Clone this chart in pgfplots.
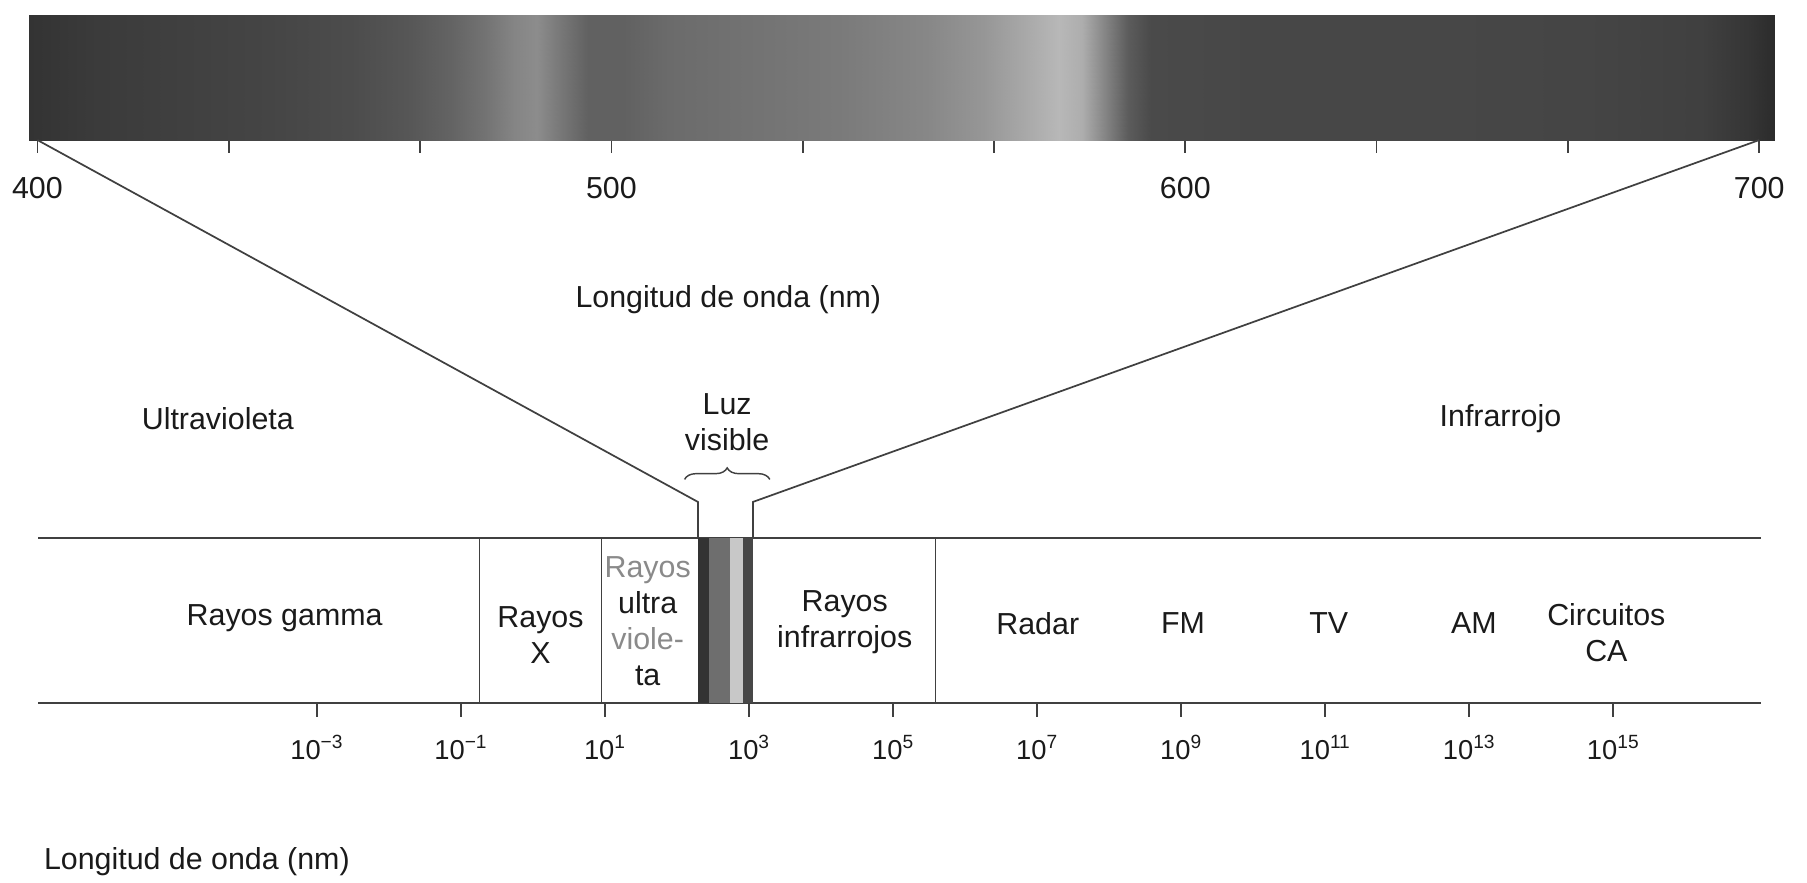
\documentclass[border=0pt]{standalone}
\usepackage{pgfplots}
\pgfplotsset{compat=1.18}
\usepackage{pgfplotstable}
\usepackage{fontspec}
\setmainfont{Liberation Sans}
\usetikzlibrary{decorations.pathreplacing}
\definecolor{ink}{HTML}{1A1A1A}
\definecolor{lin}{HTML}{404040}
\definecolor{gtext}{HTML}{8A8A8A}
\definecolor{vdark}{HTML}{333333}
\definecolor{vmid}{HTML}{6E6E6E}
\definecolor{vlight}{HTML}{C8C8C8}
\definecolor{vdark2}{HTML}{474747}

% visible spectrum (wavelength nm, row y, gray level)
\pgfplotstableread{
x y c
398.5 0 0.20
410 0 0.23
425 0 0.25
440 0 0.27
455 0 0.30
465 0 0.34
472 0 0.39
478 0 0.45
483 0 0.52
487 0 0.55
491 0 0.47
496 0 0.38
502 0 0.38
510 0 0.42
525 0 0.45
540 0 0.48
555 0 0.53
565 0 0.59
572 0 0.66
578 0 0.72
582 0 0.68
586 0 0.52
590 0 0.36
594 0 0.29
610 0 0.28
640 0 0.28
670 0 0.27
690 0 0.25
698 0 0.21
702.7 0 0.17
398.5 1 0.20
410 1 0.23
425 1 0.25
440 1 0.27
455 1 0.30
465 1 0.34
472 1 0.39
478 1 0.45
483 1 0.52
487 1 0.55
491 1 0.47
496 1 0.38
502 1 0.38
510 1 0.42
525 1 0.45
540 1 0.48
555 1 0.53
565 1 0.59
572 1 0.66
578 1 0.72
582 1 0.68
586 1 0.52
590 1 0.36
594 1 0.29
610 1 0.28
640 1 0.28
670 1 0.27
690 1 0.25
698 1 0.21
702.7 1 0.17
}\spectrum

\begin{document}
\begin{tikzpicture}[font=\fontsize{15}{17.8}\selectfont, color=ink]
\useasboundingbox (0,0) rectangle (313.6mm,-153.2mm);

% ---------------- top: visible spectrum 400-700 nm
\begin{axis}[
  at={(5mm,-24.3mm)}, anchor=south west, scale only axis,
  width=303mm, height=21.7mm,
  xmin=398.5, xmax=702.7, ymin=0, ymax=1,
  axis x line*=bottom, axis y line=none,
  x axis line style={draw=none},
  xtick={400,433.333,466.667,500,533.333,566.667,600,633.333,666.667,700},
  xticklabels={400,,,500,,,600,,,700},
  tick align=outside, major tick length=2.2mm,
  tick style={lin, line width=0.3mm},
  xticklabel style={font=\fontsize{15}{17.8}\selectfont, text=ink, yshift=-3mm},
  colormap={bw}{gray(0cm)=(0); gray(1cm)=(1)},
  point meta min=0, point meta max=1,
  clip=false,
]
\addplot[surf, shader=interp, mesh/rows=2, point meta=explicit]
  table[x=x, y=y, meta=c]{\spectrum};
\coordinate (a400) at (axis cs:400,0);
\coordinate (a700) at (axis cs:700,0);
\end{axis}

% ---------------- bottom: full spectrum, log wavelength
\begin{axis}[
  at={(6.6mm,-122mm)}, anchor=south west, scale only axis,
  width=299mm, height=28.6mm,
  xmode=log, xmin=1.34e-7, xmax=1.12e17, ymin=0, ymax=1,
  axis x line=box, axis y line=none,
  x axis line style={lin, line width=0.4mm},
  xtick={1e-3,1e-1,1e1,1e3,1e5,1e7,1e9,1e11,1e13,1e15},
  minor xtick={},
  xticklabels={10\textsuperscript{\textminus3},10\textsuperscript{\textminus1},10\textsuperscript{1},10\textsuperscript{3},10\textsuperscript{5},10\textsuperscript{7},10\textsuperscript{9},10\textsuperscript{11},10\textsuperscript{13},10\textsuperscript{15}},
  xtick pos=lower,
  tick align=outside, major tick length=2.4mm,
  tick style={lin, line width=0.3mm},
  xticklabel style={font=\fontsize{13.5}{16}\selectfont, text=ink, yshift=-2mm},
  clip=false,
]
% visible band stripes
\addplot[fill=vdark, draw=none] coordinates {(195,1) (278,1)} \closedcycle;
\addplot[fill=vmid, draw=none] coordinates {(278,1) (545,1)} \closedcycle;
\addplot[fill=vlight, draw=none] coordinates {(545,1) (822,1)} \closedcycle;
\addplot[fill=vdark2, draw=none] coordinates {(822,1) (1130,1)} \closedcycle;
% dividers
\addplot[lin, line width=0.25mm] coordinates {(0.1803,0) (0.1803,1)};
\addplot[lin, line width=0.25mm] coordinates {(8.954,0) (8.954,1)};
\addplot[lin, line width=0.25mm] coordinates {(3.89e5,0) (3.89e5,1)};
% anchor points of the zoom lines
\coordinate (vl1) at (axis cs:195,1.22);
\coordinate (vl0) at (axis cs:195,1);
\coordinate (vr1) at (axis cs:1130,1.22);
\coordinate (vr0) at (axis cs:1130,1);
% region labels
\node at (axis cs:3.56e-4,0.517) {Rayos gamma};
\node[align=center] at (axis cs:1.27,0.41) {Rayos\\X};
\node[align=center] at (axis cs:39.1,0.497) {\textcolor{gtext}{Rayos}\\ultra\\\textcolor{gtext}{viole-}\\ta};
\node[align=center] at (axis cs:2.13e4,0.493) {Rayos\\infrarrojos};
\node at (axis cs:1.02e7,0.483) {Radar};
\node at (axis cs:1.06e9,0.483) {FM};
\node at (axis cs:1.12e11,0.483) {TV};
\node at (axis cs:1.16e13,0.483) {AM};
\node[align=center] at (axis cs:8.0e14,0.427) {Circuitos\\CA};
\end{axis}

% ---------------- zoom lines
\draw[lin, line width=0.3mm] (a400) -- (vl1) -- (vl0);
\draw[lin, line width=0.3mm] (a700) -- (vr1) -- (vr0);

% ---------------- annotations
\node at (126.4mm,-52mm) {Longitud de onda (nm)};
\node at (37.8mm,-72.6mm) {Ultravioleta};
\node at (260.4mm,-72.6mm) {Infrarrojo};
\node[align=center] at (126.2mm,-73.2mm) {Luz\\visible};
\draw[lin, line width=0.25mm, decorate, decoration={brace, amplitude=2mm}]
  (118.8mm,-83.2mm) -- (133.6mm,-83.2mm);
\node[anchor=west] at (6.4mm,-149.6mm) {Longitud de onda (nm)};
\end{tikzpicture}
\end{document}
